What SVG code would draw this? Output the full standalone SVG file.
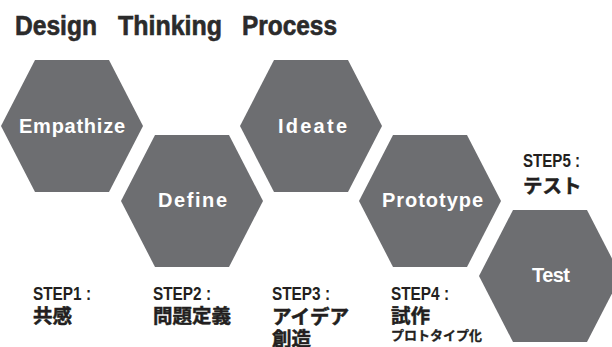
<svg xmlns="http://www.w3.org/2000/svg" width="612" height="347" viewBox="0 0 612 347">
<style>
.hex{fill:#6d6e71}
.hl{font-family:"Liberation Sans",Arial,sans-serif;font-weight:bold;font-size:20px;fill:#ffffff}
.title{font-family:"Liberation Sans",Arial,sans-serif;font-weight:bold;font-size:27px;fill:#2b2b2b;stroke:#2b2b2b;stroke-width:0.6}
.step{font-family:"Liberation Sans",Arial,sans-serif;font-weight:bold;font-size:18.5px;fill:#231f20}
.jp{font-family:"Noto Sans CJK JP",sans-serif;font-weight:bold;font-size:19.5px;fill:#231f20;stroke:#231f20;stroke-width:0.5}
.jps{font-family:"Noto Sans CJK JP",sans-serif;font-weight:bold;font-size:13px;fill:#231f20;stroke:#231f20;stroke-width:0.3}
</style>
<defs>
<polygon id="hx" points="-71,0 -37,-66 37,-66 71,0 37,66 -37,66"/>
</defs>
<rect width="612" height="347" fill="#ffffff"/>
<g id="title">
<text class="title" x="15" y="35" textLength="82" lengthAdjust="spacingAndGlyphs">Design</text>
<text class="title" x="118" y="35" textLength="104" lengthAdjust="spacingAndGlyphs">Thinking</text>
<text class="title" x="242" y="35" textLength="95" lengthAdjust="spacingAndGlyphs">Process</text>
</g>
<g id="empathize">
<use href="#hx" class="hex" x="72" y="126"/>
<text class="hl" x="19" y="133" textLength="106">Empathize</text>
</g>
<g id="define">
<use href="#hx" class="hex" x="192" y="201"/>
<text class="hl" x="158" y="207" textLength="69">Define</text>
</g>
<g id="ideate">
<use href="#hx" class="hex" x="311" y="126"/>
<text class="hl" x="278" y="133" textLength="69">Ideate</text>
</g>
<g id="prototype">
<use href="#hx" class="hex" x="430" y="201"/>
<text class="hl" x="382" y="207" textLength="101">Prototype</text>
</g>
<g id="test">
<use href="#hx" class="hex" x="550" y="276"/>
<text class="hl" x="532" y="282" textLength="38">Test</text>
</g>
<g id="step1">
<text class="step" x="33" y="300" textLength="58" lengthAdjust="spacingAndGlyphs">STEP1 :</text>
<text class="jp" x="33" y="323">共感</text>
</g>
<g id="step2">
<text class="step" x="153" y="300" textLength="58" lengthAdjust="spacingAndGlyphs">STEP2 :</text>
<text class="jp" x="153" y="323">問題定義</text>
</g>
<g id="step3">
<text class="step" x="272" y="300" textLength="58" lengthAdjust="spacingAndGlyphs">STEP3 :</text>
<text class="jp" x="272" y="324">アイデア</text>
<text class="jp" x="272" y="346">創造</text>
</g>
<g id="step4">
<text class="step" x="391" y="300" textLength="58" lengthAdjust="spacingAndGlyphs">STEP4 :</text>
<text class="jp" x="391" y="323">試作</text>
<text class="jps" x="391" y="340">プロトタイプ化</text>
</g>
<g id="step5">
<text class="step" x="523" y="167" textLength="57" lengthAdjust="spacingAndGlyphs">STEP5 :</text>
<text class="jp" x="523" y="193">テスト</text>
</g>
</svg>
